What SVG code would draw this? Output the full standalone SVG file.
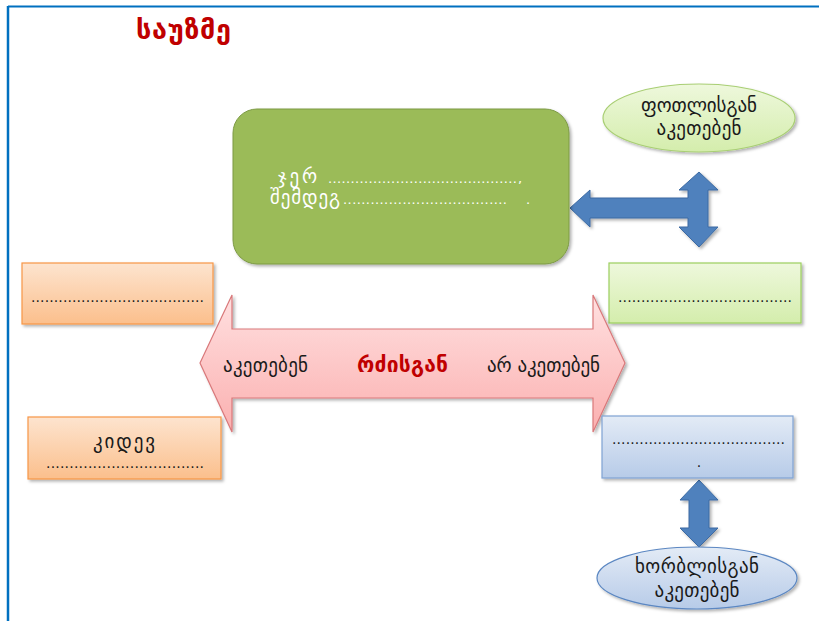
<svg xmlns="http://www.w3.org/2000/svg" width="819" height="621" viewBox="0 0 819 621">
<defs>
<style>
.t{font-family:"DejaVu Sans","Noto Sans",sans-serif;fill:#1a1a1a;font-size:19px}
.d{font-family:"DejaVu Sans","Noto Sans",sans-serif;fill:#1a1a1a;font-size:14px}
.w{font-family:"DejaVu Sans","Noto Sans",sans-serif;fill:#ffffff;font-size:19px}
.wd{font-family:"DejaVu Sans","Noto Sans",sans-serif;fill:#ffffff;font-size:13px}
.red{font-family:"DejaVu Sans","Noto Sans",sans-serif;fill:#c00000;font-weight:bold}
.blue{fill:#4f81bd;stroke:#3d6ba3;stroke-width:1}
</style>
<linearGradient id="gOr" x1="0" y1="0" x2="0" y2="1"><stop offset="0" stop-color="#fde4cf"/><stop offset="1" stop-color="#fbbf8c"/></linearGradient>
<linearGradient id="gGr" x1="0" y1="0" x2="0" y2="1"><stop offset="0" stop-color="#eef8dc"/><stop offset="1" stop-color="#d4edac"/></linearGradient>
<linearGradient id="gBl" x1="0" y1="0" x2="0" y2="1"><stop offset="0" stop-color="#e3ebf6"/><stop offset="1" stop-color="#b7cbe8"/></linearGradient>
<linearGradient id="gPk" x1="0" y1="0" x2="0" y2="1"><stop offset="0" stop-color="#ffe0e0"/><stop offset="1" stop-color="#fbb0b0"/></linearGradient>
<filter id="sh" x="-10%" y="-10%" width="125%" height="130%"><feDropShadow dx="2" dy="2" stdDeviation="1.5" flood-color="#000" flood-opacity="0.3"/></filter>
</defs>
<rect width="819" height="621" fill="#ffffff"/>
<g id="frame">
<line x1="8" y1="6.5" x2="819" y2="6.5" stroke="#0070c0" stroke-width="2"/>
<line x1="8" y1="6" x2="8" y2="621" stroke="#0070c0" stroke-width="2.5"/>
</g>
<g id="title"><text class="red" x="136" y="39" font-size="27" textLength="95" lengthAdjust="spacing">საუზმე</text></g>
<g id="connectors">
<polygon class="blue" filter="url(#sh)" points="570,208 590,190 590,198 688,198 688,190 679,190 699,172 718,190 708,190 708,227 718,227 699,247 679,227 688,227 688,218 590,218 590,227"/>
<polygon class="blue" filter="url(#sh)" points="699,480 718,500 709,500 709,528 718,528 699,547 680,528 689,528 689,500 680,500"/>
</g>
<g id="main-box">
<rect x="233" y="109" width="336" height="155" rx="24" fill="#9bbb59" stroke="#7d9a45" stroke-width="1" filter="url(#sh)"/>
<text class="w" x="278" y="183" textLength="39" lengthAdjust="spacing">ჯერ</text>
<text class="wd" x="328" y="183" textLength="189" lengthAdjust="spacing">..........................................</text>
<text class="wd" x="518" y="183">,</text>
<text class="w" x="270" y="204" textLength="70" lengthAdjust="spacing">შემდეგ</text>
<text class="wd" x="343" y="204" textLength="164" lengthAdjust="spacing">....................................</text>
<text class="wd" x="526" y="204">.</text>
</g>
<g id="leaf-ellipse">
<ellipse cx="699" cy="118" rx="96" ry="34" fill="url(#gGr)" stroke="#a9cf74" stroke-width="1.2" filter="url(#sh)"/>
<text class="t" x="699" y="112" text-anchor="middle" textLength="116" lengthAdjust="spacing">ფოთლისგან</text>
<text class="t" x="699" y="135" text-anchor="middle" textLength="85" lengthAdjust="spacing">აკეთებენ</text>
</g>
<g id="green-box">
<rect x="609" y="263" width="192" height="60" fill="url(#gGr)" stroke="#9ccf5e" stroke-width="1.2" filter="url(#sh)"/>
<text class="d" x="618" y="302" textLength="174" lengthAdjust="spacing">......................................</text>
</g>
<g id="orange-box-1">
<rect x="22" y="263" width="191" height="61" fill="url(#gOr)" stroke="#f79646" stroke-width="1.2" filter="url(#sh)"/>
<text class="d" x="31" y="302" textLength="173" lengthAdjust="spacing">......................................</text>
</g>
<g id="orange-box-2">
<rect x="28" y="417" width="193" height="62" fill="url(#gOr)" stroke="#f79646" stroke-width="1.2" filter="url(#sh)"/>
<text class="t" x="124" y="448" text-anchor="middle" textLength="62" lengthAdjust="spacing">კიდევ</text>
<text class="d" x="46" y="468" textLength="158" lengthAdjust="spacing">..................................</text>
</g>
<g id="milk-arrow">
<polygon points="200,363 232,295 232,329 593,329 593,295 625,363 593,432 593,398 232,398 232,432" fill="url(#gPk)" stroke="#d9787a" stroke-width="1.2" filter="url(#sh)"/>
<text class="t" x="223" y="372" textLength="85" lengthAdjust="spacing">აკეთებენ</text>
<text class="red" x="357" y="372" font-size="21" textLength="91" lengthAdjust="spacing">რძისგან</text>
<text class="t" x="487" y="372" textLength="113" lengthAdjust="spacing">არ აკეთებენ</text>
</g>
<g id="blue-box">
<rect x="602" y="416" width="191" height="62" fill="url(#gBl)" stroke="#7fa2d2" stroke-width="1.2" filter="url(#sh)"/>
<text class="d" x="612" y="444" textLength="173" lengthAdjust="spacing">......................................</text>
<text class="d" x="699" y="467" text-anchor="middle">.</text>
</g>
<g id="wheat-ellipse">
<ellipse cx="697" cy="578" rx="100" ry="31" fill="url(#gBl)" stroke="#5b87c2" stroke-width="1.2" filter="url(#sh)"/>
<text class="t" x="697" y="573" text-anchor="middle" textLength="124" lengthAdjust="spacing">ხორბლისგან</text>
<text class="t" x="697" y="597" text-anchor="middle" textLength="85" lengthAdjust="spacing">აკეთებენ</text>
</g>
</svg>
